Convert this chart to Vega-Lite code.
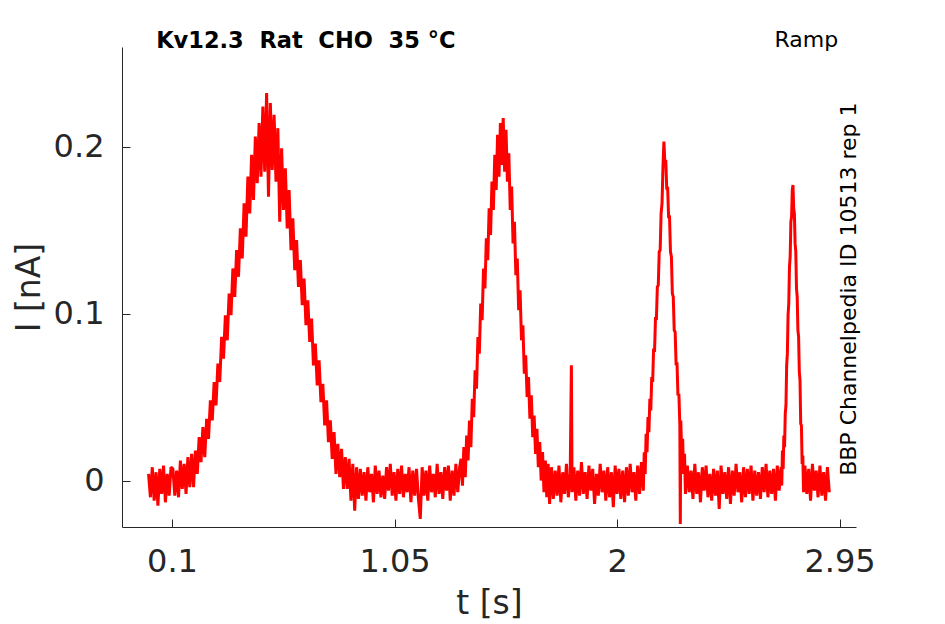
{
  "$schema": "https://vega.github.io/schema/vega-lite/v6.json",
  "width": 734,
  "height": 480,
  "autosize": "none",
  "padding": {"left": 122, "top": 47, "right": 89, "bottom": 97},
  "background": "white",
  "config": {
    "view": {"stroke": null},
    "font": "DejaVu Sans",
    "axis": {
      "grid": false,
      "domainColor": "#262626",
      "domainWidth": 1,
      "tickColor": "#262626",
      "tickWidth": 1,
      "tickSize": -8,
      "labelColor": "#262626",
      "labelFont": "DejaVu Sans",
      "labelFontSize": 32,
      "labelFlush": false,
      "labelOverlap": false,
      "labelExpr": "'' + datum.value",
      "titleColor": "#262626",
      "titleFont": "DejaVu Sans",
      "titleFontSize": 33,
      "titleFontWeight": "normal"
    }
  },
  "data": {
    "values": [
      {"t": 0.000, "I": 0.004}, {"t": 0.008, "I": -0.010}, {"t": 0.016, "I": 0.008}, {"t": 0.024, "I": -0.012},
      {"t": 0.032, "I": 0.005}, {"t": 0.040, "I": -0.015}, {"t": 0.048, "I": 0.007}, {"t": 0.056, "I": -0.008},
      {"t": 0.064, "I": 0.009}, {"t": 0.072, "I": -0.013}, {"t": 0.080, "I": 0.004}, {"t": 0.088, "I": -0.009},
      {"t": 0.096, "I": 0.008},
      {"t": 0.104, "I": 0.007}, {"t": 0.112, "I": -0.009}, {"t": 0.120, "I": 0.006}, {"t": 0.128, "I": -0.010},
      {"t": 0.136, "I": 0.012}, {"t": 0.144, "I": -0.005}, {"t": 0.152, "I": 0.010}, {"t": 0.160, "I": -0.008},
      {"t": 0.168, "I": 0.014}, {"t": 0.176, "I": -0.004}, {"t": 0.184, "I": 0.016}, {"t": 0.192, "I": -0.004},
      {"t": 0.200, "I": 0.018}, {"t": 0.208, "I": 0.004}, {"t": 0.216, "I": 0.026}, {"t": 0.224, "I": 0.011},
      {"t": 0.232, "I": 0.032}, {"t": 0.240, "I": 0.014}, {"t": 0.248, "I": 0.037}, {"t": 0.256, "I": 0.025},
      {"t": 0.264, "I": 0.048}, {"t": 0.272, "I": 0.036}, {"t": 0.280, "I": 0.059}, {"t": 0.288, "I": 0.045},
      {"t": 0.296, "I": 0.070}, {"t": 0.304, "I": 0.059}, {"t": 0.312, "I": 0.086}, {"t": 0.320, "I": 0.073},
      {"t": 0.328, "I": 0.099}, {"t": 0.336, "I": 0.084}, {"t": 0.344, "I": 0.112}, {"t": 0.352, "I": 0.099},
      {"t": 0.360, "I": 0.127}, {"t": 0.368, "I": 0.110}, {"t": 0.376, "I": 0.138}, {"t": 0.384, "I": 0.122},
      {"t": 0.392, "I": 0.151}, {"t": 0.400, "I": 0.133}, {"t": 0.408, "I": 0.166}, {"t": 0.416, "I": 0.146},
      {"t": 0.424, "I": 0.182}, {"t": 0.432, "I": 0.160}, {"t": 0.440, "I": 0.195}, {"t": 0.448, "I": 0.168},
      {"t": 0.456, "I": 0.206}, {"t": 0.464, "I": 0.178}, {"t": 0.472, "I": 0.214}, {"t": 0.480, "I": 0.182},
      {"t": 0.488, "I": 0.224}, {"t": 0.496, "I": 0.185}, {"t": 0.504, "I": 0.232}, {"t": 0.512, "I": 0.170},
      {"t": 0.520, "I": 0.226}, {"t": 0.528, "I": 0.186}, {"t": 0.536, "I": 0.219}, {"t": 0.544, "I": 0.179},
      {"t": 0.552, "I": 0.211}, {"t": 0.560, "I": 0.155}, {"t": 0.568, "I": 0.199}, {"t": 0.576, "I": 0.162},
      {"t": 0.584, "I": 0.187}, {"t": 0.592, "I": 0.151}, {"t": 0.600, "I": 0.174}, {"t": 0.608, "I": 0.138},
      {"t": 0.616, "I": 0.157}, {"t": 0.624, "I": 0.126}, {"t": 0.632, "I": 0.144}, {"t": 0.640, "I": 0.116},
      {"t": 0.648, "I": 0.132}, {"t": 0.656, "I": 0.105}, {"t": 0.664, "I": 0.121}, {"t": 0.672, "I": 0.093},
      {"t": 0.680, "I": 0.108}, {"t": 0.688, "I": 0.083}, {"t": 0.696, "I": 0.097}, {"t": 0.704, "I": 0.069},
      {"t": 0.712, "I": 0.082}, {"t": 0.720, "I": 0.057}, {"t": 0.728, "I": 0.072}, {"t": 0.736, "I": 0.047},
      {"t": 0.744, "I": 0.058}, {"t": 0.752, "I": 0.033}, {"t": 0.760, "I": 0.048}, {"t": 0.768, "I": 0.023},
      {"t": 0.776, "I": 0.036}, {"t": 0.784, "I": 0.013}, {"t": 0.792, "I": 0.029}, {"t": 0.800, "I": 0.004},
      {"t": 0.808, "I": 0.022}, {"t": 0.816, "I": 0.002}, {"t": 0.824, "I": 0.019}, {"t": 0.832, "I": -0.005},
      {"t": 0.840, "I": 0.014}, {"t": 0.848, "I": -0.005}, {"t": 0.856, "I": 0.013}, {"t": 0.864, "I": -0.012},
      {"t": 0.872, "I": 0.010}, {"t": 0.880, "I": -0.018}, {"t": 0.888, "I": 0.008}, {"t": 0.896, "I": -0.011},
      {"t": 0.904, "I": 0.007}, {"t": 0.912, "I": -0.009}, {"t": 0.920, "I": 0.005}, {"t": 0.928, "I": -0.012},
      {"t": 0.936, "I": 0.008}, {"t": 0.944, "I": -0.007}, {"t": 0.952, "I": 0.004}, {"t": 0.960, "I": -0.013},
      {"t": 0.968, "I": 0.009}, {"t": 0.976, "I": -0.008}, {"t": 0.984, "I": 0.006}, {"t": 0.992, "I": -0.010},
      {"t": 1.000, "I": 0.003}, {"t": 1.008, "I": -0.011}, {"t": 1.016, "I": 0.008}, {"t": 1.024, "I": -0.006},
      {"t": 1.032, "I": 0.010}, {"t": 1.040, "I": -0.009}, {"t": 1.048, "I": 0.005}, {"t": 1.056, "I": -0.012},
      {"t": 1.064, "I": 0.007}, {"t": 1.072, "I": -0.008}, {"t": 1.080, "I": 0.009}, {"t": 1.088, "I": -0.010},
      {"t": 1.096, "I": 0.004}, {"t": 1.104, "I": -0.007}, {"t": 1.112, "I": 0.008}, {"t": 1.120, "I": -0.013},
      {"t": 1.128, "I": 0.006}, {"t": 1.136, "I": -0.009}, {"t": 1.144, "I": 0.007}, {"t": 1.152, "I": -0.011},
      {"t": 1.160, "I": -0.023}, {"t": 1.168, "I": 0.008}, {"t": 1.176, "I": -0.009}, {"t": 1.184, "I": 0.006},
      {"t": 1.192, "I": -0.012}, {"t": 1.200, "I": 0.009}, {"t": 1.208, "I": -0.007}, {"t": 1.216, "I": 0.004},
      {"t": 1.224, "I": -0.010}, {"t": 1.232, "I": 0.010}, {"t": 1.240, "I": -0.008}, {"t": 1.248, "I": 0.005},
      {"t": 1.256, "I": -0.011}, {"t": 1.264, "I": 0.008}, {"t": 1.272, "I": -0.006}, {"t": 1.280, "I": 0.009},
      {"t": 1.288, "I": -0.012}, {"t": 1.296, "I": 0.006}, {"t": 1.304, "I": -0.009}, {"t": 1.312, "I": 0.010},
      {"t": 1.320, "I": -0.007}, {"t": 1.328, "I": 0.008},
      {"t": 1.334, "I": 0.013}, {"t": 1.340, "I": -0.003}, {"t": 1.346, "I": 0.020}, {"t": 1.352, "I": 0.002},
      {"t": 1.358, "I": 0.027}, {"t": 1.364, "I": 0.012}, {"t": 1.370, "I": 0.036}, {"t": 1.376, "I": 0.020},
      {"t": 1.382, "I": 0.049}, {"t": 1.388, "I": 0.038}, {"t": 1.394, "I": 0.066}, {"t": 1.400, "I": 0.055},
      {"t": 1.406, "I": 0.086}, {"t": 1.412, "I": 0.076}, {"t": 1.418, "I": 0.106}, {"t": 1.424, "I": 0.096},
      {"t": 1.430, "I": 0.127}, {"t": 1.436, "I": 0.115}, {"t": 1.442, "I": 0.145}, {"t": 1.448, "I": 0.132},
      {"t": 1.454, "I": 0.163}, {"t": 1.460, "I": 0.147}, {"t": 1.466, "I": 0.179}, {"t": 1.472, "I": 0.162},
      {"t": 1.478, "I": 0.195}, {"t": 1.484, "I": 0.174}, {"t": 1.490, "I": 0.207}, {"t": 1.496, "I": 0.182},
      {"t": 1.502, "I": 0.214}, {"t": 1.508, "I": 0.189}, {"t": 1.514, "I": 0.217}, {"t": 1.520, "I": 0.185},
      {"t": 1.526, "I": 0.210}, {"t": 1.532, "I": 0.179}, {"t": 1.538, "I": 0.196}, {"t": 1.544, "I": 0.162},
      {"t": 1.550, "I": 0.176}, {"t": 1.556, "I": 0.142}, {"t": 1.562, "I": 0.155}, {"t": 1.568, "I": 0.123},
      {"t": 1.574, "I": 0.133}, {"t": 1.580, "I": 0.102}, {"t": 1.586, "I": 0.114}, {"t": 1.592, "I": 0.084},
      {"t": 1.598, "I": 0.093}, {"t": 1.604, "I": 0.064}, {"t": 1.610, "I": 0.075}, {"t": 1.616, "I": 0.050},
      {"t": 1.622, "I": 0.062}, {"t": 1.628, "I": 0.037}, {"t": 1.634, "I": 0.051}, {"t": 1.640, "I": 0.026},
      {"t": 1.646, "I": 0.039}, {"t": 1.652, "I": 0.016}, {"t": 1.658, "I": 0.031}, {"t": 1.664, "I": 0.008},
      {"t": 1.670, "I": 0.023}, {"t": 1.676, "I": 0.000}, {"t": 1.682, "I": 0.017}, {"t": 1.688, "I": -0.007},
      {"t": 1.694, "I": 0.012}, {"t": 1.700, "I": -0.010}, {"t": 1.706, "I": 0.010}, {"t": 1.712, "I": -0.014},
      {"t": 1.720, "I": 0.008}, {"t": 1.728, "I": -0.011}, {"t": 1.736, "I": 0.006}, {"t": 1.744, "I": -0.009},
      {"t": 1.752, "I": 0.009}, {"t": 1.760, "I": -0.013}, {"t": 1.768, "I": 0.005}, {"t": 1.776, "I": -0.008},
      {"t": 1.784, "I": 0.010}, {"t": 1.792, "I": -0.010}, {"t": 1.800, "I": 0.004}, {"t": 1.805, "I": 0.069},
      {"t": 1.808, "I": -0.007}, {"t": 1.816, "I": 0.008}, {"t": 1.824, "I": -0.012}, {"t": 1.832, "I": 0.006},
      {"t": 1.840, "I": -0.009}, {"t": 1.848, "I": 0.011}, {"t": 1.856, "I": -0.008}, {"t": 1.864, "I": 0.005},
      {"t": 1.872, "I": -0.011}, {"t": 1.880, "I": 0.009}, {"t": 1.888, "I": -0.006}, {"t": 1.896, "I": 0.007},
      {"t": 1.904, "I": -0.014}, {"t": 1.912, "I": 0.004}, {"t": 1.920, "I": -0.009}, {"t": 1.928, "I": 0.010},
      {"t": 1.936, "I": -0.007}, {"t": 1.944, "I": 0.006}, {"t": 1.952, "I": -0.012}, {"t": 1.960, "I": 0.008},
      {"t": 1.968, "I": -0.010}, {"t": 1.976, "I": 0.005}, {"t": 1.984, "I": -0.016}, {"t": 1.992, "I": 0.009},
      {"t": 2.000, "I": -0.008}, {"t": 2.008, "I": 0.007}, {"t": 2.016, "I": -0.011}, {"t": 2.024, "I": 0.006},
      {"t": 2.032, "I": -0.013}, {"t": 2.040, "I": 0.008}, {"t": 2.048, "I": -0.009}, {"t": 2.056, "I": 0.010},
      {"t": 2.064, "I": -0.007}, {"t": 2.072, "I": 0.005}, {"t": 2.080, "I": -0.012}, {"t": 2.088, "I": 0.009},
      {"t": 2.096, "I": -0.008}, {"t": 2.104, "I": 0.011}, {"t": 2.112, "I": -0.006},
      {"t": 2.116, "I": 0.017}, {"t": 2.120, "I": 0.004}, {"t": 2.124, "I": 0.028}, {"t": 2.128, "I": 0.017},
      {"t": 2.132, "I": 0.038}, {"t": 2.136, "I": 0.029}, {"t": 2.140, "I": 0.049}, {"t": 2.144, "I": 0.042},
      {"t": 2.148, "I": 0.062}, {"t": 2.152, "I": 0.059}, {"t": 2.156, "I": 0.079}, {"t": 2.160, "I": 0.077},
      {"t": 2.164, "I": 0.097}, {"t": 2.168, "I": 0.097}, {"t": 2.172, "I": 0.116}, {"t": 2.176, "I": 0.117},
      {"t": 2.180, "I": 0.137}, {"t": 2.184, "I": 0.138}, {"t": 2.188, "I": 0.160}, {"t": 2.192, "I": 0.166},
      {"t": 2.196, "I": 0.188}, {"t": 2.200, "I": 0.203}, {"t": 2.204, "I": 0.190}, {"t": 2.208, "I": 0.192},
      {"t": 2.212, "I": 0.175}, {"t": 2.216, "I": 0.175}, {"t": 2.220, "I": 0.158}, {"t": 2.224, "I": 0.158},
      {"t": 2.228, "I": 0.137}, {"t": 2.232, "I": 0.134}, {"t": 2.236, "I": 0.112}, {"t": 2.240, "I": 0.110},
      {"t": 2.244, "I": 0.090}, {"t": 2.248, "I": 0.089}, {"t": 2.252, "I": 0.070}, {"t": 2.256, "I": 0.070},
      {"t": 2.260, "I": 0.051}, {"t": 2.264, "I": 0.052}, {"t": 2.268, "I": 0.033}, {"t": 2.270, "I": -0.026},
      {"t": 2.272, "I": 0.036}, {"t": 2.276, "I": 0.017}, {"t": 2.280, "I": 0.025}, {"t": 2.284, "I": 0.004},
      {"t": 2.288, "I": 0.016}, {"t": 2.292, "I": -0.008},
      {"t": 2.300, "I": 0.009}, {"t": 2.308, "I": -0.007}, {"t": 2.316, "I": 0.006}, {"t": 2.324, "I": -0.011},
      {"t": 2.332, "I": 0.010}, {"t": 2.340, "I": -0.008}, {"t": 2.348, "I": 0.005}, {"t": 2.356, "I": -0.013},
      {"t": 2.364, "I": 0.008}, {"t": 2.372, "I": -0.006}, {"t": 2.380, "I": 0.009}, {"t": 2.388, "I": -0.010},
      {"t": 2.396, "I": 0.004}, {"t": 2.404, "I": -0.012}, {"t": 2.412, "I": 0.007}, {"t": 2.420, "I": -0.009},
      {"t": 2.428, "I": 0.006}, {"t": 2.436, "I": -0.017}, {"t": 2.444, "I": 0.009}, {"t": 2.452, "I": -0.008},
      {"t": 2.460, "I": 0.005}, {"t": 2.468, "I": -0.011}, {"t": 2.476, "I": 0.008}, {"t": 2.484, "I": -0.014},
      {"t": 2.492, "I": 0.006}, {"t": 2.500, "I": -0.009}, {"t": 2.508, "I": 0.010}, {"t": 2.516, "I": -0.007},
      {"t": 2.524, "I": 0.005}, {"t": 2.532, "I": -0.013}, {"t": 2.540, "I": 0.008}, {"t": 2.548, "I": -0.010},
      {"t": 2.556, "I": 0.007}, {"t": 2.564, "I": -0.008}, {"t": 2.572, "I": 0.009}, {"t": 2.580, "I": -0.012},
      {"t": 2.588, "I": 0.006}, {"t": 2.596, "I": -0.009}, {"t": 2.604, "I": 0.005}, {"t": 2.612, "I": -0.011},
      {"t": 2.620, "I": 0.008}, {"t": 2.628, "I": -0.007}, {"t": 2.636, "I": 0.010}, {"t": 2.644, "I": -0.010},
      {"t": 2.652, "I": 0.006}, {"t": 2.660, "I": -0.008}, {"t": 2.668, "I": 0.007}, {"t": 2.676, "I": -0.012},
      {"t": 2.684, "I": 0.009}, {"t": 2.692, "I": -0.006}, {"t": 2.700, "I": 0.008},
      {"t": 2.703, "I": -0.003}, {"t": 2.706, "I": 0.018}, {"t": 2.709, "I": 0.007}, {"t": 2.712, "I": 0.027},
      {"t": 2.715, "I": 0.020}, {"t": 2.718, "I": 0.040}, {"t": 2.721, "I": 0.045}, {"t": 2.724, "I": 0.069},
      {"t": 2.727, "I": 0.076}, {"t": 2.730, "I": 0.099}, {"t": 2.733, "I": 0.106}, {"t": 2.736, "I": 0.128},
      {"t": 2.739, "I": 0.134}, {"t": 2.742, "I": 0.155}, {"t": 2.745, "I": 0.158}, {"t": 2.748, "I": 0.174},
      {"t": 2.751, "I": 0.177}, {"t": 2.754, "I": 0.163}, {"t": 2.757, "I": 0.160}, {"t": 2.760, "I": 0.142},
      {"t": 2.763, "I": 0.137}, {"t": 2.766, "I": 0.115}, {"t": 2.769, "I": 0.110}, {"t": 2.772, "I": 0.090},
      {"t": 2.775, "I": 0.086}, {"t": 2.778, "I": 0.065}, {"t": 2.781, "I": 0.060}, {"t": 2.784, "I": 0.034},
      {"t": 2.787, "I": 0.033}, {"t": 2.790, "I": 0.010}, {"t": 2.793, "I": 0.015}, {"t": 2.796, "I": -0.007},
      {"t": 2.802, "I": 0.009}, {"t": 2.810, "I": -0.008}, {"t": 2.818, "I": 0.007}, {"t": 2.826, "I": -0.012},
      {"t": 2.834, "I": 0.010}, {"t": 2.842, "I": -0.006}, {"t": 2.850, "I": 0.006}, {"t": 2.858, "I": -0.010},
      {"t": 2.866, "I": 0.009}, {"t": 2.874, "I": -0.009}, {"t": 2.882, "I": 0.005}, {"t": 2.890, "I": -0.012},
      {"t": 2.898, "I": 0.008}, {"t": 2.906, "I": -0.007}
    ]
  },
  "layer": [
    {
      "mark": {"type": "line", "color": "#ff0000", "strokeWidth": 3, "strokeJoin": "miter", "strokeMiterLimit": 2},
      "encoding": {
        "x": {
          "field": "t",
          "type": "quantitative",
          "title": "t [s]",
          "scale": {"domain": [-0.1133, 3.02], "nice": false, "zero": false},
          "axis": {"values": [0.1, 1.05, 2, 2.95], "labelPadding": 27, "titlePadding": 10}
        },
        "y": {
          "field": "I",
          "type": "quantitative",
          "title": "I [nA]",
          "scale": {"domain": [-0.0278, 0.2596], "nice": false, "zero": false},
          "axis": {"values": [0, 0.1, 0.2], "labelPadding": 26, "titlePadding": 7}
        }
      }
    },
    {
      "data": {"values": [{"label": "Kv12.3\u00a0\u00a0Rat\u00a0\u00a0CHO\u00a0\u00a035\u00a0°C"}]},
      "mark": {"type": "text", "font": "DejaVu Sans", "fontSize": 22.5, "fontWeight": "bold", "color": "#000000", "align": "left", "baseline": "alphabetic"},
      "encoding": {
        "x": {"datum": 0.0325, "type": "quantitative", "title": "t [s]"},
        "y": {"datum": 0.2592, "type": "quantitative", "title": "I [nA]"},
        "text": {"field": "label"}
      }
    },
    {
      "data": {"values": [{"label": "Ramp"}]},
      "mark": {"type": "text", "font": "DejaVu Sans", "fontSize": 22, "color": "#000000", "align": "right", "baseline": "alphabetic"},
      "encoding": {
        "x": {"datum": 2.944, "type": "quantitative", "title": "t [s]"},
        "y": {"datum": 0.2596, "type": "quantitative", "title": "I [nA]"},
        "text": {"field": "label"}
      }
    },
    {
      "data": {"values": [{"label": "BBP Channelpedia ID 10513 rep 1"}]},
      "mark": {"type": "text", "font": "DejaVu Sans", "fontSize": 22, "color": "#000000", "align": "center", "baseline": "alphabetic", "angle": 270},
      "encoding": {
        "x": {"datum": 3.02, "type": "quantitative", "title": "t [s]"},
        "y": {"datum": 0.1146, "type": "quantitative", "title": "I [nA]"},
        "text": {"field": "label"}
      }
    }
  ]
}
